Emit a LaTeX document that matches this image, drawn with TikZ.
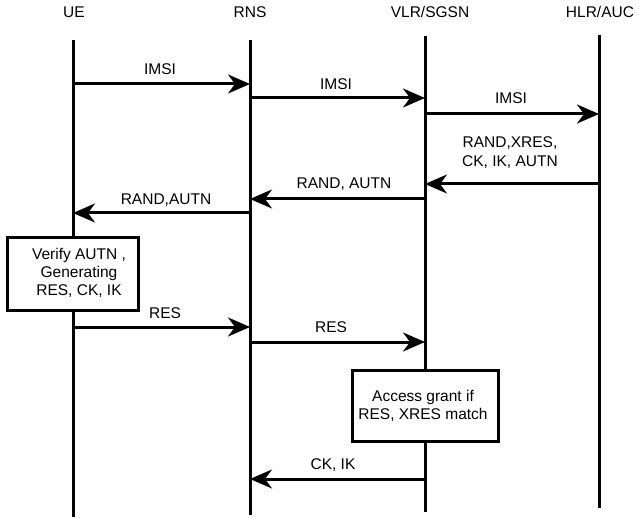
\documentclass[tikz,border=0pt]{standalone}
\usepackage{fontspec}
\setmainfont{Liberation Sans}
\usetikzlibrary{arrows.meta}
\begin{document}
\begin{tikzpicture}[x=1pt,y=-1pt,
  every node/.style={inner sep=0pt,font=\fontsize{15.5}{18}\selectfont},
  lifeline/.style={line width=3pt},
  msg/.style={line width=3pt,-{Stealth[length=22pt,width=19pt,inset=7pt]}},
  lbl/.style={anchor=base,align=center},
  notebox/.style={draw,line width=3pt,fill=white}]
\useasboundingbox (0,0) rectangle (639,518);

% entity names
\node[lbl] (nUE)  at (74,18)  {UE};
\node[lbl] (nRNS) at (250,18) {RNS};
\node[lbl] (nVLR) at (430,18) {VLR/SGSN};
\node[lbl] (nHLR) at (600,18) {HLR/AUC};

% lifelines
\coordinate (ueT) at (73,40);   \coordinate (ueB) at (73,517);
\coordinate (rnT) at (250,40);  \coordinate (rnB) at (250,515);
\coordinate (vlT) at (425,36);  \coordinate (vlB) at (425,512);
\coordinate (hlT) at (599,35);  \coordinate (hlB) at (599,508);
\draw[lifeline] (ueT) -- (ueB);
\draw[lifeline] (rnT) -- (rnB);
\draw[lifeline] (vlT) -- (vlB);
\draw[lifeline] (hlT) -- (hlB);

% message end points
\coordinate (ue1) at (73,84);   \coordinate (rn1) at (250,84);
\coordinate (rn2) at (250,98);  \coordinate (vl2) at (425,98);
\coordinate (vl3) at (425,114); \coordinate (hl3) at (599,114);
\coordinate (hl4) at (599,184); \coordinate (vl4) at (425,184);
\coordinate (vl5) at (425,199); \coordinate (rn5) at (250,199);
\coordinate (rn6) at (250,213); \coordinate (ue6) at (73,213);
\coordinate (ue7) at (73,327);  \coordinate (rn7) at (250,327);
\coordinate (rn8) at (250,342); \coordinate (vl8) at (425,342);
\coordinate (vl9) at (425,479); \coordinate (rn9) at (250,479);

% messages (multi-line labels are placed by the baseline of their last line)
\draw[msg] (ue1) -- (rn1);
\node[lbl] (m1) at (160,75) {IMSI};
\draw[msg] (rn2) -- (vl2);
\node[lbl] (m2) at (336,90) {IMSI};
\draw[msg] (vl3) -- (hl3);
\node[lbl] (m3) at (511,104) {IMSI};
\draw[msg] (hl4) -- (vl4);
\node[lbl,font=\fontsize{15.5}{19}\selectfont] (m4) at (510,166.5) {RAND,XRES,\\CK, IK, AUTN};
\draw[msg] (vl5) -- (rn5);
\node[lbl] (m5) at (344,189) {RAND, AUTN};
\draw[msg] (rn6) -- (ue6);
\node[lbl] (m6) at (166,205) {RAND,AUTN};

% local processing at the UE
\draw[notebox] (7,238) rectangle (138,310);
\node[lbl] (p1) at (79,295.5) {Verify AUTN ,\\Generating\\RES, CK, IK};

\draw[msg] (ue7) -- (rn7);
\node[lbl] (m7) at (165,318) {RES};
\draw[msg] (rn8) -- (vl8);
\node[lbl] (m8) at (331,332) {RES};

% check at the VLR/SGSN
\draw[notebox] (352,370) rectangle (498,441);
\node[lbl] (p2) at (423,419.5) {Access grant if\\RES, XRES match};

\draw[msg] (vl9) -- (rn9);
\node[lbl] (m9) at (333,469) {CK, IK};
\end{tikzpicture}
\end{document}
